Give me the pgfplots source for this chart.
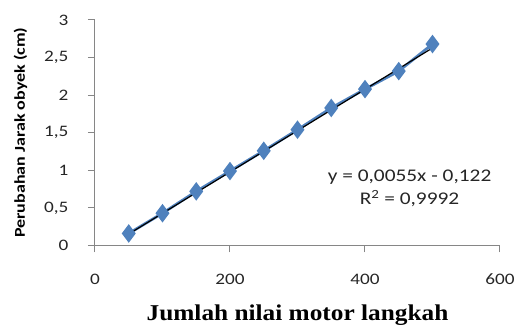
\documentclass[border=0pt]{standalone}
\usepackage{pgfplots}
\pgfplotsset{compat=1.18}
\usepackage{fontspec}
\setmainfont{Carlito}[FakeStretch=1.2]
\newfontfamily\serifb{Liberation Serif}[FakeStretch=1.12]
\definecolor{exblue}{HTML}{4F81BD}
\definecolor{axgray}{HTML}{868686}
\begin{document}
\begin{tikzpicture}
\begin{axis}[
  scale only axis, width=405pt, height=225.5pt,
  xmin=0, xmax=600, ymin=0, ymax=3,
  axis x line*=bottom, axis y line*=left,
  axis line style={axgray, line width=1pt, -},
  tick align=outside, major tick length=7pt,
  tick style={axgray, line width=1pt},
  xtick={0,200,400,600}, ytick={0,0.5,1,1.5,2,2.5,3},
  /pgf/number format/use comma,
  /pgf/number format/assume math mode=true,
  tick label style={font=\fontsize{16}{18}\selectfont, text=black!85},
  xticklabel style={yshift=-18pt},
  yticklabel style={xshift=-16pt},
  xlabel={\serifb\bfseries\fontsize{22.6}{26}\selectfont Jumlah nilai motor langkah},
  ylabel={\bfseries\fontsize{15}{17}\selectfont Perubahan Jarak obyek (cm)},
  xlabel style={yshift=-13pt},
  ylabel style={yshift=10pt},
  clip=false,
]
\addplot[exblue, line width=2.8pt, mark=diamond*, mark size=7pt, mark options={exblue, solid}]
 coordinates {(50,0.16) (100,0.43) (150,0.72) (200,0.99) (250,1.26) (300,1.54) (350,1.83) (400,2.08) (450,2.32) (500,2.68)};
\addplot[black, line width=1.2pt, no marks]
 coordinates {(50,0.153) (500,2.628)};
\node[align=center, font=\fontsize{17.8}{23}\selectfont, text=black!85] at (axis cs:466,0.76)
 {y = 0,0055x - 0,122\\R\textsuperscript{2} = 0,9992};
\end{axis}
\pgfresetboundingbox
\path[use as bounding box] ([shift={(-95pt,-80.5pt)}]current axis.south west) rectangle ([shift={(424pt,245.5pt)}]current axis.south west);
\end{tikzpicture}
\end{document}
